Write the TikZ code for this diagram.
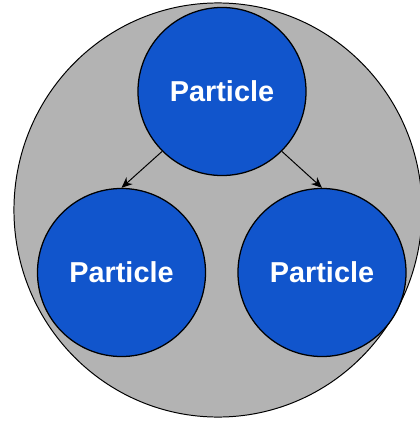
\documentclass[tikz,border=0pt]{standalone}
\usepackage{fontspec}
\setmainfont{Liberation Sans}
\usepackage{xcolor}
\usepackage{tikz}
\usetikzlibrary{arrows.meta,positioning,shapes.geometric}
\definecolor{ptblue}{HTML}{1155CC}
\definecolor{wellgray}{HTML}{B3B3B3}
\tikzset{
  well/.style={draw, ellipse, fill=wellgray, line width=0.7pt,
               minimum width=10.2cm, minimum height=10.35cm, inner sep=0pt},
  ptcl/.style={draw, circle, fill=ptblue, line width=0.9pt,
               minimum size=4.2cm, inner sep=0pt, text=white,
               font=\bfseries\fontsize{20.5}{24}\selectfont},
  split/.style={-{Stealth[length=2.7mm,width=2.3mm]}, line width=0.7pt},
}

\begin{document}
\begin{tikzpicture}[x=0.025cm,y=-0.025cm]
    \useasboundingbox (0,0) rectangle (420,421);
    \node[well] (cloud) at (218,210) {};
    \node[ptcl] (top) at (222,91.5) {Particle};
    \node[ptcl] (left) at (121.5,272.5) {Particle};
    \node[ptcl] (right) at (322,272.5) {Particle};

    \draw[split] (top.225) -- (left.north);
    \draw[split] (top.-45) -- (right.north);
  \end{tikzpicture}
\end{document}
